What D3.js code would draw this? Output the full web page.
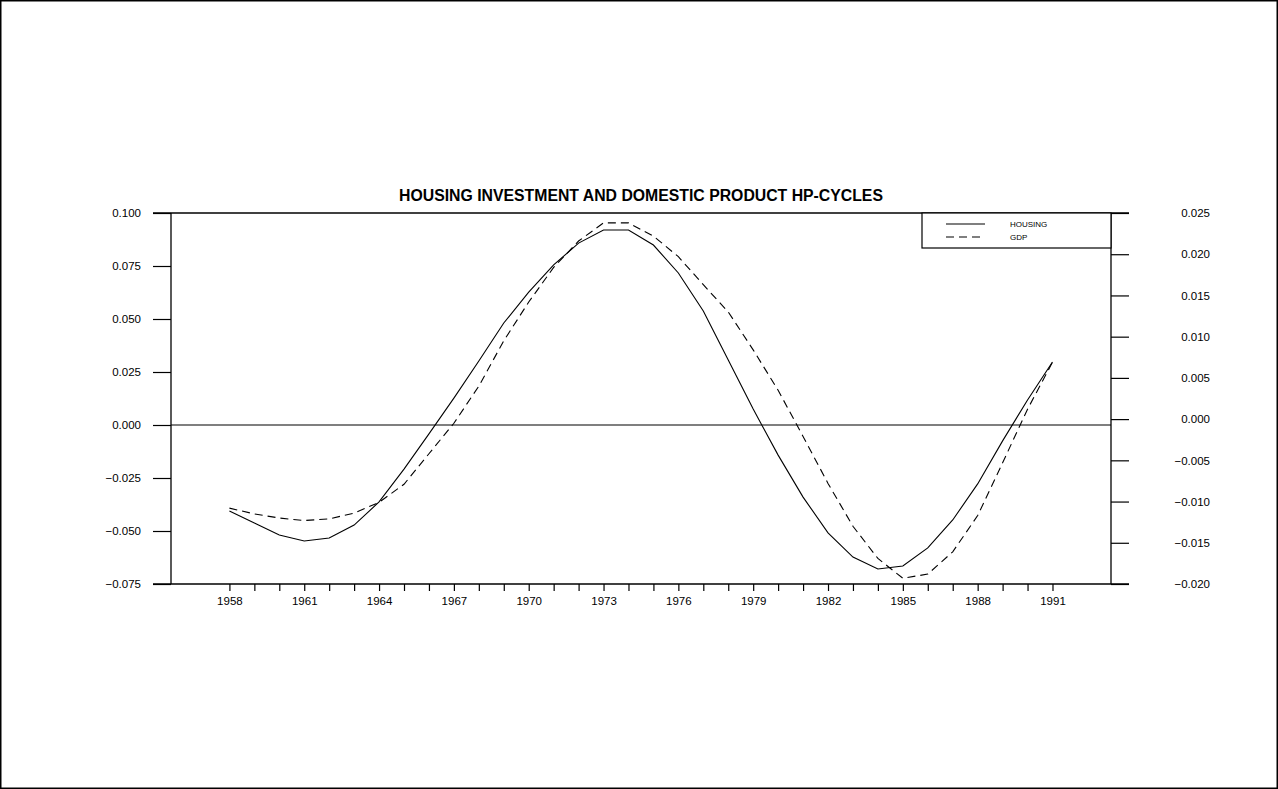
<!DOCTYPE html>
<html>
<head>
<meta charset="utf-8">
<script src="https://cdn.jsdelivr.net/npm/d3@7"></script>
<style>
  html, body { margin: 0; padding: 0; background: #fff; }
  svg { display: block; }
  text { font-family: "Liberation Sans", Arial, sans-serif; fill: #000; }
</style>
</head>
<body>
<svg id="chart" width="1278" height="789"></svg>
<script>
// HP-filtered cycles, annual, 1958-1991
const years = d3.range(1958, 1992);
const housing = [
  -0.0406, -0.0462, -0.0519, -0.0547, -0.0533, -0.0472, -0.0363, -0.0208, -0.0042, 0.0127,
   0.0302,  0.0481,  0.0627,  0.0755,  0.0858,  0.0920,  0.0920,  0.0849,  0.0717, 0.0538,
   0.0307,  0.0075, -0.0142, -0.0340, -0.0509, -0.0623, -0.0679, -0.0665, -0.0580, -0.0448,
  -0.0278, -0.0075,  0.0118,  0.0297
];
const gdp = [
  -0.0108, -0.0115, -0.0120, -0.0123, -0.0121, -0.0114, -0.0101, -0.0079, -0.0042, -0.0005,
   0.0040,  0.0095,  0.0142,  0.0184,  0.0216,  0.0238,  0.0238,  0.0222,  0.0197,  0.0163,
   0.0130,  0.0084,  0.0035, -0.0021, -0.0078, -0.0130, -0.0169, -0.0193, -0.0188, -0.0161,
  -0.0117, -0.0053,  0.0012,  0.0069
];
const leftTicks = [-0.075, -0.050, -0.025, 0.000, 0.025, 0.050, 0.075, 0.100];
const rightTicks = [-0.020, -0.015, -0.010, -0.005, 0.000, 0.005, 0.010, 0.015, 0.020, 0.025];
const labelYears = [1958, 1961, 1964, 1967, 1970, 1973, 1976, 1979, 1982, 1985, 1988, 1991];
const seriesNames = ["HOUSING", "GDP"];
const chartTitle = "HOUSING INVESTMENT AND DOMESTIC PRODUCT HP-CYCLES";

const svg = d3.select("#chart");
const W = 1278, H = 789;
const plot = { left: 171, right: 1111, top: 213, bottom: 584 };
const tickLen = 18;

// outer frame
svg.append("rect")
  .attr("x", 0).attr("y", 0).attr("width", W).attr("height", H)
  .attr("fill", "none").attr("stroke", "#000").attr("stroke-width", 3);

const x = d3.scaleLinear().domain([1955.658, 1993.346]).range([plot.left, plot.right]);
const yL = d3.scaleLinear().domain([-0.075, 0.100]).range([plot.bottom, plot.top]);
const yR = d3.scaleLinear().domain([-0.020, 0.025]).range([plot.bottom, plot.top]);

const fmt = d3.format(".3f");

// left axis
const gL = svg.append("g").attr("transform", `translate(${plot.left},0)`)
  .call(d3.axisLeft(yL).tickValues(leftTicks).tickSize(tickLen).tickPadding(12).tickFormat(fmt));
// right axis
const gR = svg.append("g").attr("transform", `translate(${plot.right},0)`)
  .call(d3.axisRight(yR).tickValues(rightTicks).tickSize(tickLen).tickFormat(fmt));
gR.selectAll(".tick text").attr("x", 99).attr("text-anchor", "end");
// bottom axis
const gB = svg.append("g").attr("transform", `translate(0,${plot.bottom})`)
  .call(d3.axisBottom(x).tickValues(years).tickSize(7)
    .tickFormat(d => labelYears.includes(d) ? String(d) : ""));
gB.selectAll(".tick text").attr("y", 13).attr("dy", "0.71em");

[gL, gR, gB].forEach(g => {
  g.select(".domain").remove();
  g.selectAll(".tick line").attr("stroke", "#000").attr("stroke-width", 1.2);
  g.selectAll(".tick text")
    .style("font-family", '"Liberation Sans", Arial, sans-serif')
    .style("font-size", "11.5px").attr("fill", "#000");
});

// frame lines
const frame = svg.append("g").attr("stroke", "#000").attr("stroke-width", 1.3);
frame.append("line").attr("x1", plot.left - tickLen).attr("x2", plot.right + tickLen)
  .attr("y1", plot.top).attr("y2", plot.top);
frame.append("line").attr("x1", plot.left - tickLen).attr("x2", plot.right + tickLen)
  .attr("y1", plot.bottom).attr("y2", plot.bottom);
frame.append("line").attr("x1", plot.left).attr("x2", plot.left)
  .attr("y1", plot.top).attr("y2", plot.bottom);
frame.append("line").attr("x1", plot.right).attr("x2", plot.right)
  .attr("y1", plot.top).attr("y2", plot.bottom);
// zero line
svg.append("line").attr("x1", plot.left).attr("x2", plot.right)
  .attr("y1", yL(0)).attr("y2", yL(0))
  .attr("stroke", "#000").attr("stroke-width", 1.2);

// series lines
const lineH = d3.line().x((d, i) => x(years[i])).y(d => yL(d));
const lineG = d3.line().x((d, i) => x(years[i])).y(d => yR(d));
svg.append("path").datum(housing).attr("d", lineH)
  .attr("fill", "none").attr("stroke", "#000").attr("stroke-width", 1.1);
svg.append("path").datum(gdp).attr("d", lineG)
  .attr("fill", "none").attr("stroke", "#000").attr("stroke-width", 1.1)
  .attr("stroke-dasharray", "8,5");

// title
svg.append("text").attr("x", 641).attr("y", 201).attr("text-anchor", "middle")
  .style("font-size", "15.8px").style("font-weight", "bold").text(chartTitle);

// legend
const lg = svg.append("g");
lg.append("rect").attr("x", 922).attr("y", plot.top).attr("width", plot.right - 922).attr("height", 35)
  .attr("fill", "#fff").attr("stroke", "#000").attr("stroke-width", 1.2);
const dashes = [null, "8,5"];
seriesNames.forEach((name, i) => {
  const yy = 224 + i * 13;
  lg.append("line").attr("x1", 946).attr("x2", 985).attr("y1", yy).attr("y2", yy)
    .attr("stroke", "#000").attr("stroke-width", 1.1)
    .attr("stroke-dasharray", dashes[i]);
  lg.append("text").attr("x", 1010).attr("y", yy + 3)
    .style("font-size", "8px").text(name);
});
</script>
</body>
</html>
